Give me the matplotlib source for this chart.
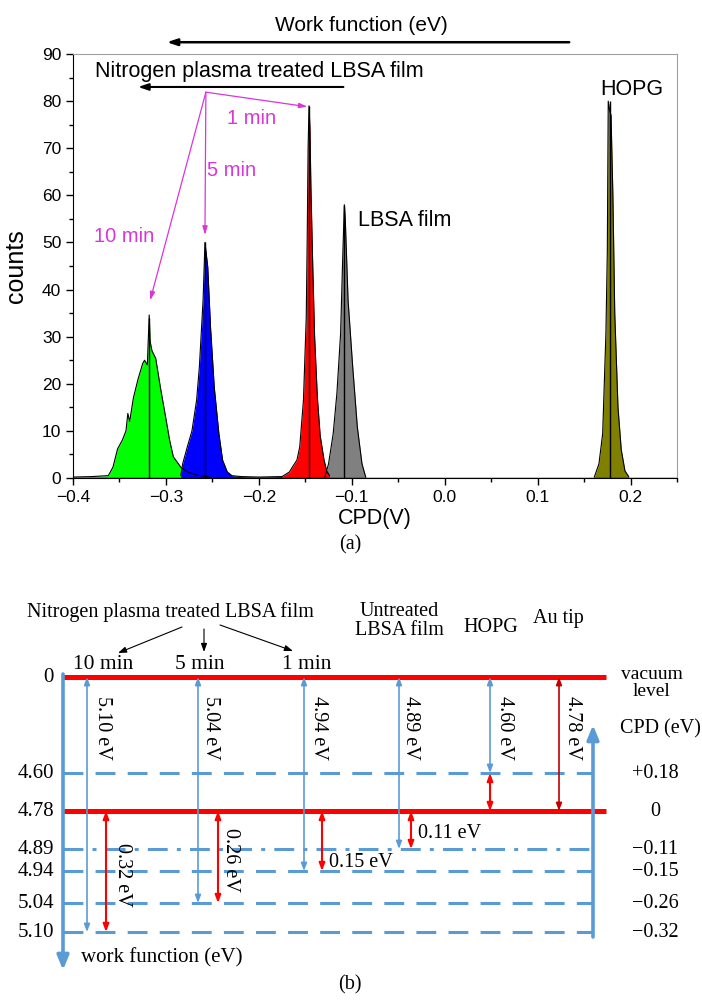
import numpy as np
import matplotlib
matplotlib.use('Agg')
import matplotlib.pyplot as plt

plt.rcParams['font.family'] = 'Liberation Sans'

# ---- panel (a): CPD histograms ----
green_x = [-0.400, -0.380, -0.362, -0.357, -0.352, -0.347, -0.343, -0.341, -0.339, -0.335, -0.330,
           -0.325, -0.323, -0.320, -0.318, -0.317, -0.315, -0.311, -0.306, -0.301, -0.296, -0.292,
           -0.284, -0.277, -0.267, -0.253]
green_y = [0.2, 0.3, 0.5, 2.3, 6.2, 8.0, 10.0, 13.7, 12.0, 17.0, 21.0,
           24.3, 25.0, 24.0, 34.6, 29.0, 27.0, 25.4, 19.3, 13.7, 8.0, 4.5,
           2.3, 1.3, 0.6, 0.2]

blue_x = [-0.284, -0.282, -0.277, -0.272, -0.267, -0.264, -0.260, -0.258, -0.255, -0.252, -0.248,
          -0.243, -0.239, -0.234, -0.229, -0.219, -0.200, -0.175]
blue_y = [0.5, 3.0, 6.6, 10.0, 16.5, 23.6, 37.8, 50.0, 44.8, 32.0, 19.3,
          9.4, 3.8, 1.3, 0.5, 0.3, 0.2, 0.3]

red_x = [-0.175, -0.171, -0.167, -0.164, -0.159, -0.156, -0.152, -0.149, -0.148, -0.147, -0.146,
         -0.145, -0.144, -0.142, -0.140, -0.137, -0.134, -0.130, -0.127, -0.124]
red_y = [0.3, 0.8, 1.3, 2.3, 3.8, 6.6, 16.5, 34.0, 50.0, 70.0, 79.0,
         74.0, 62.0, 45.0, 30.0, 17.0, 9.0, 4.0, 1.5, 0.5]

gray_x = [-0.129, -0.125, -0.120, -0.116, -0.112, -0.110, -0.108, -0.107, -0.104, -0.099, -0.094,
          -0.089, -0.085]
gray_y = [0.2, 3.0, 9.4, 18.0, 30.7, 45.0, 58.0, 55.0, 37.8, 23.6, 10.8,
          3.0, 0.2]

hopg_x = [0.161, 0.166, 0.170, 0.1735, 0.175, 0.176, 0.1775, 0.179, 0.181, 0.183, 0.1865,
          0.190, 0.194, 0.198]
hopg_y = [0.2, 3.0, 9.4, 30.7, 48.0, 80.0, 78.0, 77.0, 60.0, 35.0, 15.0,
          6.0, 1.5, 0.3]

peaks = [(-0.318, 34.0), (-0.258, 50.0), (-0.146, 79.0), (-0.108, 58.0), (0.178, 80.0)]

# ---- panel (b): energy levels ----
level_wf = [0.0, 4.60, 4.78, 4.89, 4.94, 5.04, 5.10]
level_txt = ['0', '4.60', '4.78', '4.89', '4.94', '5.04', '5.10']
cpd_txt = ['', '+0.18', '0', '\u22120.11', '\u22120.15', '\u22120.26', '\u22120.32']
# schematic (non-linear) vertical placement of each level in the drawing, px
level_pos = [677, 773, 811, 849, 871, 903, 932]

samples = ['10 min', '5 min', '1 min', 'Untreated', 'HOPG', 'Au tip']
sample_wf = [5.10, 5.04, 4.94, 4.89, 4.60, 4.78]
sample_cpd = [0.32, 0.26, 0.15, 0.11, 0.18, None]

BLUE = '#5b9bd5'
MAG = '#d936d9'

fig = plt.figure(figsize=(7.02, 10.05), dpi=100)

ax = fig.add_axes([73/702, 1-478/1005, 604/702, 424/1005])
for xs, ys, c in [(green_x, green_y, '#00ff00'), (blue_x, blue_y, '#0000ff'),
                  (gray_x, gray_y, '#808080'), (red_x, red_y, '#ff0000'),
                  (hopg_x, hopg_y, '#808000')]:
    ax.fill_between(xs, 0, ys, color=c, lw=0)
    ax.plot(xs, ys, color='k', lw=0.8)
for px, py in peaks:
    ax.vlines(px, 0, py, color='k', lw=1.0)
ax.axhline(0, color='k', lw=1.0)

ax.set_xlim(-0.4, 0.25)
ax.set_ylim(0, 90)
ax.set_xticks(np.arange(-0.4, 0.21, 0.1))
ax.set_xticklabels(['\u22120.4', '\u22120.3', '\u22120.2', '\u22120.1', '0.0', '0.1', '0.2'])
ax.set_xticks(np.arange(-0.35, 0.26, 0.1), minor=True)
ax.set_yticks(np.arange(0, 91, 10))
ax.set_yticks(np.arange(5, 90, 10), minor=True)
ax.tick_params(which='both', direction='out', top=False, right=False, labelsize=12.5, width=1)
ax.tick_params(which='major', length=5)
ax.tick_params(which='minor', length=3)
for s in ['top', 'right']:
    ax.spines[s].set_color('#a0a0a0')
    ax.spines[s].set_linewidth(0.8)
ax.set_xlabel('CPD(V)', fontsize=15.5, labelpad=2)
ax.set_ylabel('counts', fontsize=18)
ax.yaxis.set_label_coords(-0.075, 0.5)

ax.text(-0.09, 96.1, 'Work function (eV)', fontsize=15, ha='center', va='center')
ax.annotate('', xy=(-0.299, 92.5), xytext=(0.134, 92.5), annotation_clip=False,
            arrowprops=dict(arrowstyle='-|>,head_length=0.6,head_width=0.2', color='k', lw=1.8,
                            shrinkA=0, shrinkB=0))
ax.text(-0.376, 86.3, 'Nitrogen plasma treated LBSA film', fontsize=15.5, ha='left', va='center')
ax.annotate('', xy=(-0.330, 83.0), xytext=(-0.109, 83.0),
            arrowprops=dict(arrowstyle='-|>,head_length=0.6,head_width=0.2', color='k', lw=1.5,
                            shrinkA=0, shrinkB=0))
origin = (-0.257, 81.9)
for tip in [(-0.1476, 78.8), (-0.258, 51.6), (-0.317, 37.7)]:
    ax.annotate('', xy=tip, xytext=origin,
                arrowprops=dict(arrowstyle='-|>,head_length=0.5,head_width=0.15', color=MAG, lw=0.9,
                                shrinkA=0, shrinkB=0))
ax.text(-0.208, 76.4, '1 min', color=MAG, fontsize=14.5, ha='center', va='center')
ax.text(-0.229, 65.3, '5 min', color=MAG, fontsize=14.5, ha='center', va='center')
ax.text(-0.345, 51.2, '10 min', color=MAG, fontsize=14.5, ha='center', va='center')
ax.text(-0.043, 54.6, 'LBSA film', fontsize=15.5, ha='center', va='center')
ax.text(0.201, 82.4, 'HOPG', fontsize=15.5, ha='center', va='center')

# ---- panel (b) drawn in pixel coordinates ----
bx = fig.add_axes([0, 0, 1, 1])
bx.set_xlim(0, 702)
bx.set_ylim(1005, 0)
bx.axis('off')
serif = 'Liberation Serif'


def ypos(wf):
    return np.interp(wf, level_wf, level_pos)


def arrow(x0, y0, x1, y1, color, lw, style='<|-|>,head_length=0.45,head_width=0.17'):
    bx.annotate('', xy=(x1, y1), xytext=(x0, y0),
                arrowprops=dict(arrowstyle=style, color=color, lw=lw, shrinkA=0, shrinkB=0))


x_left, x_right, x_red = 63, 593, 606

# level lines
for wf in level_wf[1:]:
    y = ypos(wf)
    if wf == 4.78:
        bx.plot([x_left, x_red], [y, y], color='#ff0000', lw=3.6, solid_capstyle='butt')
    elif wf == 4.89:
        bx.plot([x_left, x_right], [y, y], color=BLUE, lw=2.2, ls=(0, (6.5, 3, 1.3, 3)))
    else:
        bx.plot([x_left, x_right], [y, y], color=BLUE, lw=2.2, ls=(0, (6.5, 4)))
bx.plot([x_left, x_red], [ypos(0), ypos(0)], color='#ff0000', lw=3.6, solid_capstyle='butt')

# axes arrows
arrow(x_left, 674, x_left, 970, BLUE, 2.6, '-|>,head_length=0.85,head_width=0.35')
arrow(x_right, 937, x_right, 725, BLUE, 2.6, '-|>,head_length=0.85,head_width=0.35')

# level labels
for wf, t, c in zip(level_wf, level_txt, cpd_txt):
    y = ypos(wf)
    bx.text(54, y, t, family=serif, fontsize=15, ha='right', va='center')
    if c:
        bx.text(655, y, c, family=serif, fontsize=14.5, ha='center', va='center')

# work-function arrows and CPD arrows
wf_x = [87, 198, 304, 399, 490, 559]
wf_lab_x = [102, 211, 318, 410, 504, 572]
cpd_x = [106, 218, 322, 411, 490, None]
for i, name in enumerate(samples):
    col = '#c00000' if name == 'Au tip' else BLUE
    arrow(wf_x[i], ypos(0), wf_x[i], ypos(sample_wf[i]), col, 1.2)
    bx.text(wf_lab_x[i], 728, '%.2f eV' % sample_wf[i], family=serif, fontsize=14.5,
            rotation=-90, ha='center', va='center')
    if sample_cpd[i] is not None:
        arrow(cpd_x[i], ypos(4.78), cpd_x[i],
              ypos(4.60) if name == 'HOPG' else ypos(sample_wf[i]), '#ff0000', 1.5)

bx.text(122, 875, '%.2f eV' % sample_cpd[0], family=serif, fontsize=14.5, rotation=-90,
        ha='center', va='center')
bx.text(231, 860, '%.2f eV' % sample_cpd[1], family=serif, fontsize=14.5, rotation=-90,
        ha='center', va='center')
bx.text(329, 862, '%.2f eV' % sample_cpd[2], family=serif, fontsize=14.5, ha='left', va='center')
bx.text(418, 833, '%.2f eV' % sample_cpd[3], family=serif, fontsize=14.5, ha='left', va='center')

# header texts
bx.text(170, 612, 'Nitrogen plasma treated LBSA film', family=serif, fontsize=14.5,
        ha='center', va='center')
for (x0, y0, x1, y1) in [(182, 627, 118, 653), (204, 629, 204, 652), (220, 625, 293, 651)]:
    arrow(x0, y0, x1, y1, 'k', 0.8, '-|>,head_length=0.5,head_width=0.18')
for x, t in zip([103, 200, 307], samples[:3]):
    bx.text(x, 664, t, family=serif, fontsize=15.5, ha='center', va='center')
bx.text(399, 621, 'Untreated\nLBSA film', family=serif, fontsize=14.5, ha='center', va='center',
        linespacing=1.0)
bx.text(491, 627, 'HOPG', family=serif, fontsize=14.5, ha='center', va='center')
bx.text(558, 618, 'Au tip', family=serif, fontsize=14.5, ha='center', va='center')
bx.text(652, 683, 'vacuum\nlevel', family=serif, fontsize=14, ha='center', va='center',
        linespacing=1.0)
bx.text(660, 729, 'CPD (eV)', family=serif, fontsize=14.5, ha='center', va='center')
bx.text(81, 958, 'work function (eV)', family=serif, fontsize=15, ha='left', va='center')

bx.text(350, 545, '(a)', family=serif, fontsize=14.5, ha='center', va='center')
bx.text(350, 985, '(b)', family=serif, fontsize=14.5, ha='center', va='center')

fig.savefig('out.png', dpi=100)
